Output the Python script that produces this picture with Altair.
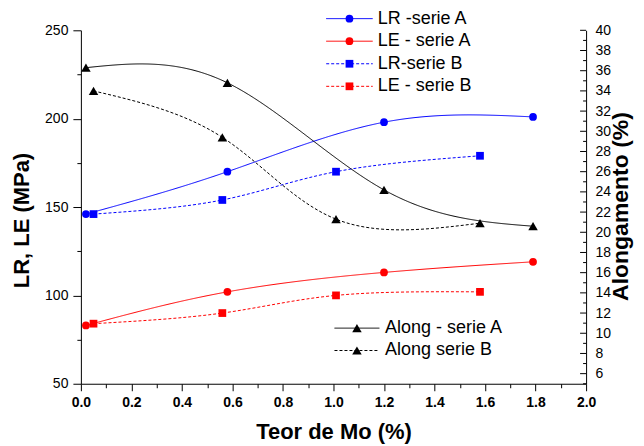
import altair as alt
import pandas as pd

# ---------------- data ----------------
mo_A = [0.02, 0.58, 1.20, 1.79]
mo_B = [0.05, 0.56, 1.01, 1.58]
lr_A = [146, 170, 198, 201]
le_A = [83, 102, 113, 119]
lr_B = [146, 154, 170, 179]
le_B = [84, 90, 100, 102]
along_A = [36.3, 34.8, 24.2, 20.6]
along_B = [34.0, 29.4, 21.3, 20.9]

series_names = ["LR -serie A", "LE - serie A", "LR-serie B", "LE - serie B",
                "Along - serie A", "Along serie B"]
x_ticks = [0.0, 0.2, 0.4, 0.6, 0.8, 1.0, 1.2, 1.4, 1.6, 1.8, 2.0]
left_ticks = [50, 100, 150, 200, 250]
right_ticks = list(range(6, 41, 2))

# ---------------- styles ----------------
series_colors = ["#0000FF", "#FF0000", "#0000FF", "#FF0000", "#000000", "#000000"]
series_dash = [[1, 0], [1, 0], [3, 2], [3, 2], [1, 0], [3, 2]]
series_shapes = ["circle", "circle", "square", "square", "triangle-up", "triangle-up"]
FONT = "Liberation Sans"
W, H = 506, 354

left_rows = []
for name, xs, ys in [(series_names[0], mo_A, lr_A), (series_names[1], mo_A, le_A),
                     (series_names[2], mo_B, lr_B), (series_names[3], mo_B, le_B)]:
    for a, b in zip(xs, ys):
        left_rows.append({"series": name, "mo": a, "val": b})
left_df = pd.DataFrame(left_rows)

right_rows = []
for name, xs, ys in [(series_names[4], mo_A, along_A), (series_names[5], mo_B, along_B)]:
    for a, b in zip(xs, ys):
        right_rows.append({"series": name, "mo": a, "val": b})
right_df = pd.DataFrame(right_rows)

x_scale = alt.Scale(domain=[0, 2], nice=False, zero=False)
yl_scale = alt.Scale(domain=[50, 250], nice=False, zero=False)
yr_scale = alt.Scale(domain=[5, 40], nice=False, zero=False)

color = alt.Color("series:N", scale=alt.Scale(domain=series_names, range=series_colors), legend=None)
dash = alt.StrokeDash("series:N", scale=alt.Scale(domain=series_names, range=series_dash), legend=None)
shape = alt.Shape("series:N", scale=alt.Scale(domain=series_names, range=series_shapes), legend=None)

x_axis = alt.Axis(orient="bottom", values=x_ticks, format=".1f", tickSize=7, labelFontSize=14,
                  labelFontWeight="bold", labelPadding=5, labelFlush=False,
                  title="Teor de Mo (%)", titleFontSize=22, titleFontWeight="bold",
                  titleX=W / 2, titleY=48, titleBaseline="middle", titleAlign="center")
left_axis = alt.Axis(orient="left", values=left_ticks, tickSize=8, labelFontSize=14, labelPadding=5,
                     labelFlush=False,
                     title="LR, LE (MPa)", titleFontSize=22, titleFontWeight="bold",
                     titleX=-59, titleY=190, titleAngle=-90, titleAlign="center",
                     titleBaseline="middle")
right_axis = alt.Axis(orient="right", values=right_ticks, tickSize=0, labelFontSize=14,
                      labelPadding=9, labelFlush=False, title="Alongamento (%)", titleFontSize=23,
                      titleFontWeight="bold", titleX=34, titleY=176, titleAngle=-90,
                      titleAlign="center", titleBaseline="middle")

left_lines = alt.Chart(left_df).mark_line(interpolate="natural", strokeWidth=1).encode(
    x=alt.X("mo:Q", scale=x_scale, axis=x_axis),
    y=alt.Y("val:Q", scale=yl_scale, axis=left_axis),
    color=color, strokeDash=dash)
left_pts = alt.Chart(left_df).mark_point(filled=True, opacity=1, size=60, strokeWidth=0).encode(
    x=alt.X("mo:Q", scale=x_scale, axis=None),
    y=alt.Y("val:Q", scale=yl_scale, axis=None),
    color=color, shape=shape)

right_lines = alt.Chart(right_df).mark_line(interpolate="natural", strokeWidth=1).encode(
    x=alt.X("mo:Q", scale=x_scale, axis=None),
    y=alt.Y("val:Q", scale=yr_scale, axis=right_axis),
    color=color, strokeDash=dash)
right_pts = alt.Chart(right_df).mark_point(filled=True, opacity=1, size=90, strokeWidth=0).encode(
    x=alt.X("mo:Q", scale=x_scale, axis=None),
    y=alt.Y("val:Q", scale=yr_scale, axis=None),
    color=color, shape=shape)

# minor ticks
x_minor = [round(0.1 + 0.2 * i, 1) for i in range(10)]
l_minor = [75, 125, 175, 225]
x_minor_layer = alt.Chart(pd.DataFrame({"t": x_minor})).mark_point(opacity=0).encode(
    x=alt.X("t:Q", scale=x_scale,
            axis=alt.Axis(orient="bottom", values=x_minor, labels=False, domain=False,
                          tickSize=4, title="")))
l_minor_layer = alt.Chart(pd.DataFrame({"t": l_minor})).mark_point(opacity=0).encode(
    y=alt.Y("t:Q", scale=yl_scale,
            axis=alt.Axis(orient="left", values=l_minor, labels=False, domain=False,
                          tickSize=4, title="")))

# inward ticks on the right axis
r_major = alt.Chart(pd.DataFrame({"t": right_ticks})).mark_rule(color="black", strokeWidth=1).encode(
    y=alt.Y("t:Q", scale=yr_scale, axis=None), x=alt.value(W - 6), x2=alt.value(W))
r_minor = alt.Chart(pd.DataFrame({"t": list(range(5, 40, 2))})).mark_rule(color="black", strokeWidth=1).encode(
    y=alt.Y("t:Q", scale=yr_scale, axis=None), x=alt.value(W - 3), x2=alt.value(W))

# manual legends
leg_rows = []
for i, name in enumerate(series_names[:4]):
    leg_rows.append({"series": name, "x1": 245.7, "x2": 292.3, "xm": 269.0, "xt": 297.3,
                     "y": -11.7 + i * 22.6})
for i, name in enumerate(series_names[4:]):
    leg_rows.append({"series": name, "x1": 254.0, "x2": 299.0, "xm": 276.5, "xt": 304.7,
                     "y": 298.3 + i * 22.4})
leg_df = pd.DataFrame(leg_rows)
leg_df["sz"] = [60, 60, 60, 60, 90, 90]

leg_line = alt.Chart(leg_df).mark_rule(strokeWidth=1).encode(
    x=alt.X("x1:Q", scale=None, axis=None), x2="x2:Q",
    y=alt.Y("y:Q", scale=None, axis=None), color=color, strokeDash=dash)
leg_pt = alt.Chart(leg_df).mark_point(filled=True, opacity=1, strokeWidth=0).encode(
    x=alt.X("xm:Q", scale=None, axis=None),
    y=alt.Y("y:Q", scale=None, axis=None), color=color, shape=shape,
    size=alt.Size("sz:Q", scale=None, legend=None))
leg_txt = alt.Chart(leg_df).mark_text(align="left", baseline="middle", fontSize=18,
                                      font=FONT, color="black").encode(
    x=alt.X("xt:Q", scale=None, axis=None),
    y=alt.Y("y:Q", scale=None, axis=None), text="series:N")

chart = alt.layer(
    x_minor_layer, l_minor_layer, r_major, r_minor,
    left_lines, right_lines, left_pts, right_pts,
    leg_line, leg_pt, leg_txt
).resolve_scale(x="independent", y="independent").properties(
    width=W, height=H,
    padding={"left": 73, "top": 22, "right": 50, "bottom": 60},
    autosize=alt.AutoSizeParams(type="none")
).configure_view(stroke=None).configure_axis(
    grid=False, labelFont=FONT, titleFont=FONT, domainColor="black", tickColor="black",
    labelColor="black", titleColor="black", domainWidth=1, tickWidth=1
)

chart.save("out.html", embed_options={"renderer": "svg", "actions": False})
